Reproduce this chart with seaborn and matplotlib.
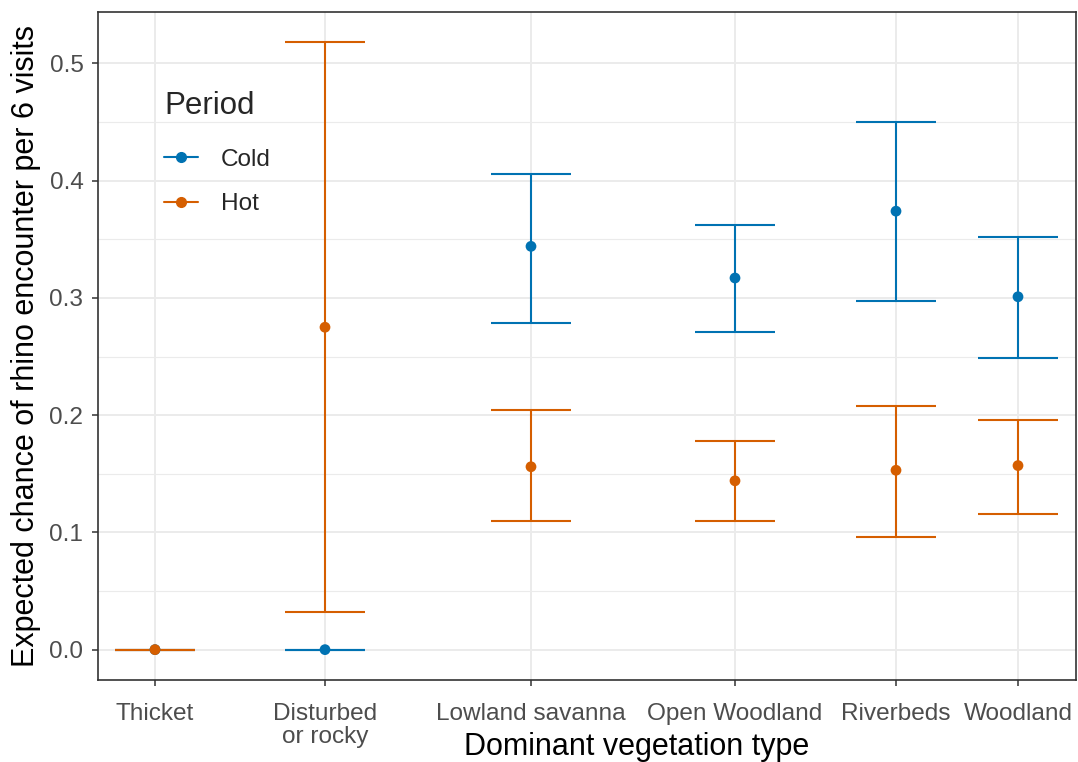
import matplotlib
matplotlib.use("Agg")
import matplotlib.pyplot as plt
import seaborn as sns
import pandas as pd
import numpy as np
from matplotlib.lines import Line2D

# ---- data ----
vegetation = ["Thicket", "Disturbed\nor rocky", "Lowland savanna", "Open Woodland", "Riverbeds", "Woodland"]
veg_position = [1.00, 2.70, 4.76, 6.80, 8.41, 9.63]

cold_mean = [0.000, 0.000, 0.344, 0.317, 0.374, 0.301]
cold_lower = [0.000, 0.000, 0.2785, 0.271, 0.297, 0.249]
cold_upper = [0.000, 0.000, 0.406, 0.362, 0.450, 0.352]

hot_mean = [0.000, 0.275, 0.156, 0.144, 0.153, 0.157]
hot_lower = [0.000, 0.032, 0.110, 0.110, 0.096, 0.116]
hot_upper = [0.000, 0.518, 0.2044, 0.178, 0.208, 0.196]

periods = ["Cold", "Hot"]
colors = {"Cold": "#0072B2", "Hot": "#D55E00"}

rows = []
for p, m, lo, hi in [("Cold", cold_mean, cold_lower, cold_upper), ("Hot", hot_mean, hot_lower, hot_upper)]:
    for v, x, mm, l, h in zip(vegetation, veg_position, m, lo, hi):
        rows.append({"veg": v, "x": x, "Period": p, "mean": mm, "lower": l, "upper": h})
df = pd.DataFrame(rows)

sns.set_theme(style="white")
plt.rcParams['font.family'] = ['Liberation Sans', 'DejaVu Sans']

fig = plt.figure(figsize=(10.78, 7.62), dpi=100)
ax = fig.add_axes([98/1078, 1-680/762, (1076-98)/1078, (680-12)/762])

# grid
for y in np.arange(-0.05, 0.56, 0.05):
    major = abs(round(y / 0.1) * 0.1 - y) < 1e-9
    ax.axhline(y, color="#EBEBEB", lw=1.4 if major else 0.8, zorder=0)
for x in veg_position:
    ax.axvline(x, color="#EBEBEB", lw=1.4, zorder=0)

cap = 0.40
for p in periods:
    d = df[df.Period == p]
    c = colors[p]
    ax.vlines(d["x"], d["lower"], d["upper"], color=c, lw=1.5, zorder=2)
    ax.hlines(d["lower"], d["x"] - cap, d["x"] + cap, color=c, lw=1.5, zorder=2)
    ax.hlines(d["upper"], d["x"] - cap, d["x"] + cap, color=c, lw=1.5, zorder=2)

sns.scatterplot(data=df, x="x", y="mean", hue="Period", palette=colors, s=60,
                edgecolor="none", ax=ax, zorder=3, legend=False)

ax.set_xlim(0.43, 10.21)
ax.set_ylim(-0.0259, 0.5439)
ax.set_xticks(veg_position)
ax.set_xticklabels(vegetation, linespacing=1.08)
ax.set_yticks([0.0, 0.1, 0.2, 0.3, 0.4, 0.5])
ax.set_yticklabels(["0.0", "0.1", "0.2", "0.3", "0.4", "0.5"])
ax.tick_params(axis="both", which="major", length=4.5, width=1.1, color="#333333",
               labelsize=17.6, labelcolor="#4D4D4D", direction="out", pad=6)
ax.tick_params(axis="x", pad=12)
ax.tick_params(bottom=True, left=True)
for s in ax.spines.values():
    s.set_color("#333333")
    s.set_linewidth(1.2)

ax.set_xlabel("Dominant vegetation type", fontsize=22, color="black")
ax.xaxis.set_label_coords(0.551, -0.078)
ax.set_ylabel("Expected chance of rhino encounter per 6 visits", fontsize=22, color="black", labelpad=6)

handles = [Line2D([0], [0], color=colors[p], lw=1.5, marker="o", markersize=7, label=p) for p in periods]
leg = ax.legend(handles=handles, title="Period", loc="upper left",
                bbox_to_anchor=(164/1078, 1-91/762), bbox_transform=fig.transFigure,
                frameon=False, fontsize=17.6, title_fontsize=22.5, handlelength=1.4,
                handletextpad=0.93, labelspacing=0.91, borderpad=0, borderaxespad=0)
leg._legend_box.align = "left"
leg._legend_box.sep = 20

fig.savefig("out.png", dpi=100)
